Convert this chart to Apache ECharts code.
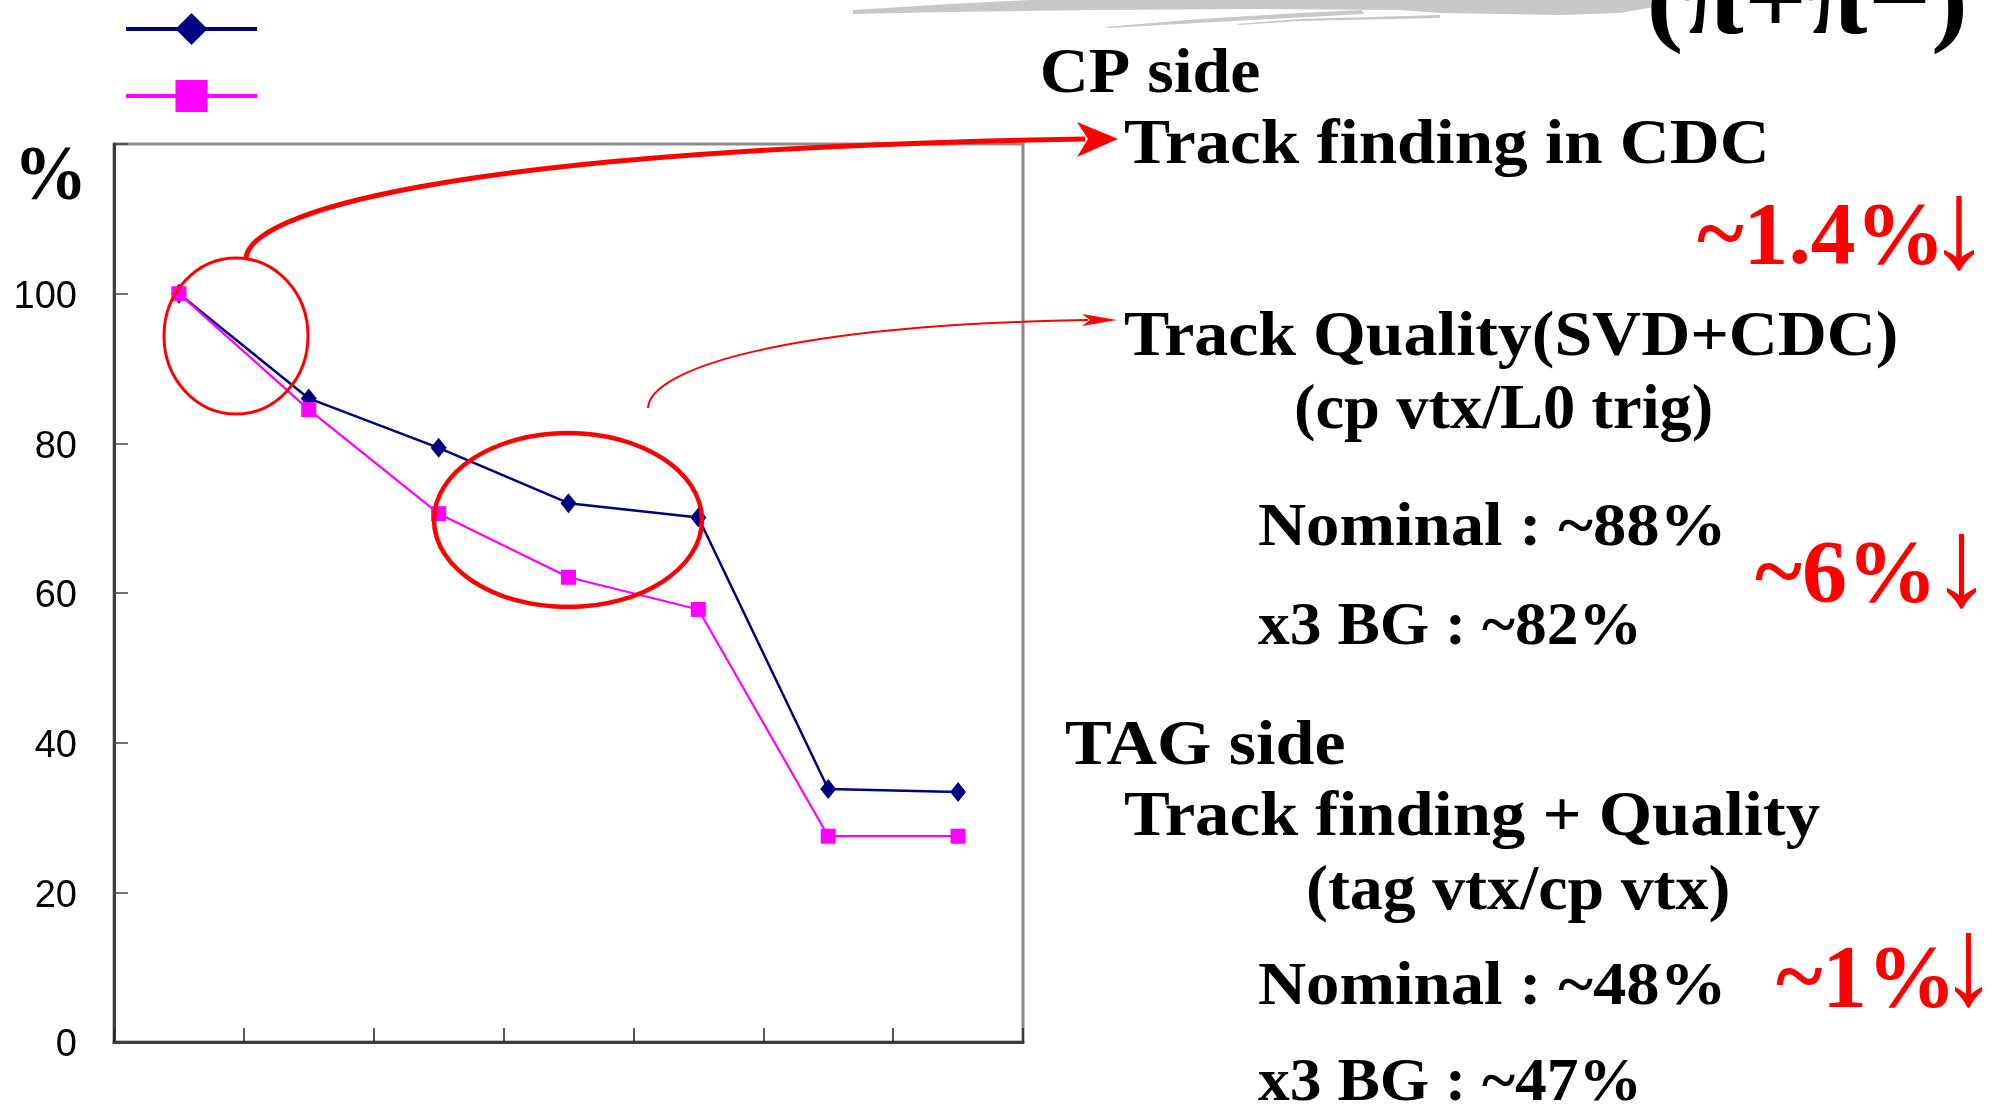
<!DOCTYPE html>
<html><head><meta charset="utf-8">
<script src="https://cdn.jsdelivr.net/npm/echarts@6/dist/echarts.min.js"></script>
<style>html,body{margin:0;padding:0;background:#fff}#c{width:1991px;height:1104px}</style>
</head><body><div id="c"></div>
<script>
// ---- data ----
const categories = ['1', '2', '3', '4', '5', '6', '7'];
const seriesNames = ['Nominal', 'x3 BG'];
const nominalValues = [100, 86.0, 79.4, 72.0, 70.1, 33.8, 33.4];
const bgValues = [100, 84.5, 70.6, 62.1, 57.8, 27.5, 27.5];
const yTickLabels = ['0', '20', '40', '60', '80', '100', ''];
const unitLabel = '%';
const slideTitle = '(π+π−)';
const blackNotes = ['CP side', 'Track finding in CDC', 'Track Quality(SVD+CDC)', '(cp vtx/L0 trig)',
  'Nominal : ~88%', 'x3 BG : ~82%', 'TAG side', 'Track finding + Quality', '(tag vtx/cp vtx)',
  'Nominal : ~48%', 'x3 BG : ~47%'];
const redNotes = ['~1.4%', '~6%', '~1%'];
const arrowGlyph = '↓';

// ---- layout (pixels) ----
const blackLayout = [ // left, right, baseline, size
  [1043, 1259, 92, 64], [1125, 1765, 163, 64], [1125, 1896, 355, 64], [1296, 1711, 428, 64],
  [1259, 1721, 545, 62], [1258, 1637, 644, 62], [1066, 1344, 764, 64], [1125, 1820, 835, 64],
  [1308, 1728, 909, 64], [1259, 1721, 1004, 62], [1258, 1637, 1100, 62]];
const redLayout = [[1697, 1937, 263], [1755, 1929, 601], [1776, 1948, 1006]];
const arrowLayout = [[1943, 1975, 195, 271], [1946, 1977, 533, 609], [1954, 1983, 932, 1008]];

const SERIF = '"Liberation Serif", "DejaVu Serif", serif';
const mctx = document.createElement('canvas').getContext('2d');
function ink(text, font) {
  mctx.font = font;
  mctx.textBaseline = 'alphabetic';
  const m = mctx.measureText(text);
  mctx.textBaseline = 'middle';
  const m2 = mctx.measureText(text);
  return { l: -m.actualBoundingBoxLeft, r: m.actualBoundingBoxRight,
           t: -m.actualBoundingBoxAscent, b: m.actualBoundingBoxDescent,
           d: m.actualBoundingBoxAscent - m2.actualBoundingBoxAscent };
}
function textEl(text, font, color, x, y, sx, sy) {
  return { type: 'text', x: x, y: y, scaleX: sx, scaleY: sy, z: 50,
    style: { text: text, font: font, fill: color, x: 0, y: 0,
      align: 'left', verticalAlign: 'middle', textAlign: 'left', textVerticalAlign: 'middle' } };
}
function fitWidth(text, font, color, x0, x1, baseline) {
  const m = ink(text, font);
  const s = (x1 - x0) / (m.r - m.l);
  return textEl(text, font, color, x0 - m.l * s, baseline - m.d, s, 1);
}
function fitBox(text, font, color, x0, x1, y0, y1) {
  const m = ink(text, font);
  const sx = (x1 - x0) / (m.r - m.l);
  const sy = (y1 - y0) / (m.b - m.t);
  return textEl(text, font, color, x0 - m.l * sx, y0 - sy * (m.d + m.t), sx, sy);
}

const graphics = [];
// gray brush strokes at top
const gray = '#c8c8c8';
graphics.push({ type: 'polygon', z: 1, shape: { points: [[853,10],[950,4],[1030,0],[1660,0],[1660,6],[1620,13],[1560,15],[1440,13],[1400,10],[1250,9],[1100,10],[950,12],[853,14]] }, style: { fill: gray } });
graphics.push({ type: 'polygon', z: 1, shape: { points: [[1104,27],[1200,19],[1300,13],[1362,10],[1364,14],[1250,20],[1110,28]] }, style: { fill: gray } });
graphics.push({ type: 'polygon', z: 1, shape: { points: [[1236,24],[1300,19],[1440,15],[1440,18],[1300,21],[1240,25]] }, style: { fill: gray } });
// title remnant
graphics.push(fitWidth(slideTitle, 'bold 100px ' + SERIF, '#000', 1651, 1963, 33));
// unit label
graphics.push(fitBox(unitLabel, 'bold 60px ' + SERIF, '#000', 21, 81, 148, 200));
// notes
blackNotes.forEach((t, i) => {
  const L = blackLayout[i];
  graphics.push(fitWidth(t, 'bold ' + L[3] + 'px ' + SERIF, '#000', L[0], L[1], L[2]));
});
redNotes.forEach((t, i) => {
  const L = redLayout[i];
  graphics.push(fitWidth(t, 'bold 88px ' + SERIF, '#ff0000', L[0], L[1], L[2]));
  const A = arrowLayout[i];
  graphics.push(fitBox(arrowGlyph, 'bold 88px ' + SERIF, '#ff0000', A[0], A[1], A[2], A[3]));
});
// red annotations
const red = '#ff0000';
graphics.push({ type: 'ellipse', z: 60, shape: { cx: 236, cy: 336, rx: 72, ry: 78 }, style: { fill: 'none', stroke: red, lineWidth: 3 } });
graphics.push({ type: 'ellipse', z: 60, shape: { cx: 568, cy: 520, rx: 134, ry: 87 }, style: { fill: 'none', stroke: red, lineWidth: 4.5 } });
graphics.push({ type: 'bezierCurve', z: 60, shape: { x1: 246, y1: 258, cpx1: 250, cpy1: 215, cpx2: 430, cpy2: 150, x2: 1085, y2: 139 }, style: { fill: 'none', stroke: red, lineWidth: 5 } });
graphics.push({ type: 'polygon', z: 60, shape: { points: [[1077,122],[1118,139],[1077,157],[1088,139]] }, style: { fill: red } });
graphics.push({ type: 'bezierCurve', z: 60, shape: { x1: 648, y1: 408, cpx1: 650, cpy1: 370, cpx2: 780, cpy2: 325, x2: 1088, y2: 320 }, style: { fill: 'none', stroke: red, lineWidth: 2 } });
graphics.push({ type: 'polygon', z: 60, shape: { points: [[1082,314],[1117,320],[1082,326],[1090,320]] }, style: { fill: red } });

const chart = echarts.init(document.getElementById('c'), null, { renderer: 'canvas' });
chart.setOption({
  backgroundColor: '#ffffff',
  animation: false,
  grid: { left: 114, right: 968, top: 144, bottom: 62, show: true, borderColor: '#8a8a8a', borderWidth: 3, backgroundColor: 'transparent' },
  legend: {
    orient: 'vertical', left: 119, top: 4, padding: 5, itemWidth: 131, itemHeight: 40, itemGap: 31,
    formatter: () => '', textStyle: { fontSize: 1 },
    lineStyle: { width: 4 }, itemStyle: { borderWidth: 0 },
    data: seriesNames
  },
  xAxis: {
    type: 'category', data: categories, boundaryGap: true,
    axisLine: { show: true, lineStyle: { color: '#3c3c3c', width: 3 } },
    axisTick: { show: true, inside: true, length: 14, lineStyle: { color: '#222', width: 1.5 } },
    axisLabel: { show: false }, splitLine: { show: false }
  },
  yAxis: {
    type: 'value', min: 0, max: 120, interval: 20,
    axisLine: { show: true, lineStyle: { color: '#3c3c3c', width: 3 } },
    axisTick: { show: true, inside: true, length: 14, lineStyle: { color: '#444', width: 1.5 } },
    axisLabel: { show: true, margin: 37, color: '#000',
      formatter: (v) => '{a|' + yTickLabels[Math.round(v / 20)] + '}',
      rich: { a: { fontFamily: '"Liberation Sans", Arial, sans-serif', fontSize: 38, color: '#000', padding: [8, 0, 0, 0] } } },
    splitLine: { show: false }
  },
  series: [
    { name: seriesNames[0], type: 'line', data: nominalValues, symbol: 'diamond', symbolSize: [16, 20],
      lineStyle: { color: '#000080', width: 2.5 }, itemStyle: { color: '#000080' }, z: 3 },
    { name: seriesNames[1], type: 'line', data: bgValues, symbol: 'rect', symbolSize: 15,
      lineStyle: { color: '#ff00ff', width: 2.2 }, itemStyle: { color: '#ff00ff' }, z: 4 }
  ],
  graphic: { elements: graphics }
});
</script>
</body></html>
